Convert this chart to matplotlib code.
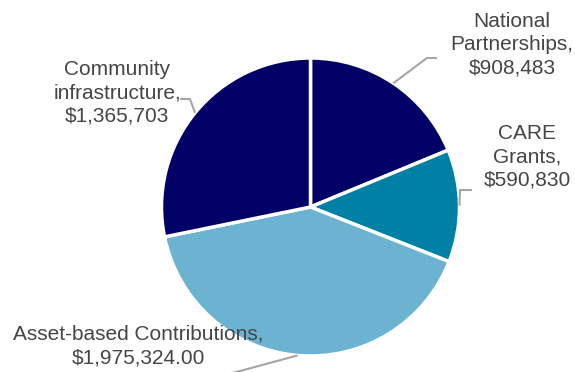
import numpy as np
import matplotlib.pyplot as plt

plt.rcParams['font.family'] = ['Liberation Sans', 'DejaVu Sans']

categories = ["National\nPartnerships", "CARE\nGrants", "Asset-based Contributions", "Community\ninfrastructure"]
values = [908483, 590830, 1975324.00, 1365703]
value_text = ["$908,483", "$590,830", "$1,975,324.00", "$1,365,703"]
colors = ["#000066", "#0080A4", "#6BB3D0", "#000066"]

W, H = 575, 372
fig = plt.figure(figsize=(W / 100, H / 100), dpi=100)
ax = fig.add_axes([0, 0, 1, 1])

cx, cy, r = 310.5, H - 207, 149
wedges, _ = ax.pie(values, colors=colors, startangle=90, counterclock=False,
                   radius=r, center=(cx, cy), frame=True,
                   wedgeprops=dict(edgecolor='white', linewidth=2.5))
ax.set_xlim(0, W)
ax.set_ylim(0, H)
ax.set_aspect('equal')
ax.axis('off')

# label centre and leader elbow points (pixels from top-left)
label_pos = [(512, 45), (527, 157), (138, 346), (117, 93)]
elbows = [[(427, 58), (437, 58)],
          [(460, 190), (472, 190)],
          [(240, 371), (215, 377)],
          [(190, 99), (180, 99)]]
text_color = "#454545"
line_color = "#A6A6A6"

for w, cat, vt, (lx, ly), elb in zip(wedges, categories, value_text, label_pos, elbows):
    mid = np.deg2rad((w.theta1 + w.theta2) / 2)
    x0 = cx + r * np.cos(mid)
    y0 = cy + r * np.sin(mid)
    xs = [x0] + [p[0] for p in elb]
    ys = [y0] + [H - p[1] for p in elb]
    ax.plot(xs, ys, color=line_color, lw=1.5, solid_capstyle='butt')
    ax.text(lx, H - ly, cat + ",\n" + vt, ha='center', va='center', fontsize=15,
            color=text_color, linespacing=1.3)

fig.savefig("out.png", dpi=100)
